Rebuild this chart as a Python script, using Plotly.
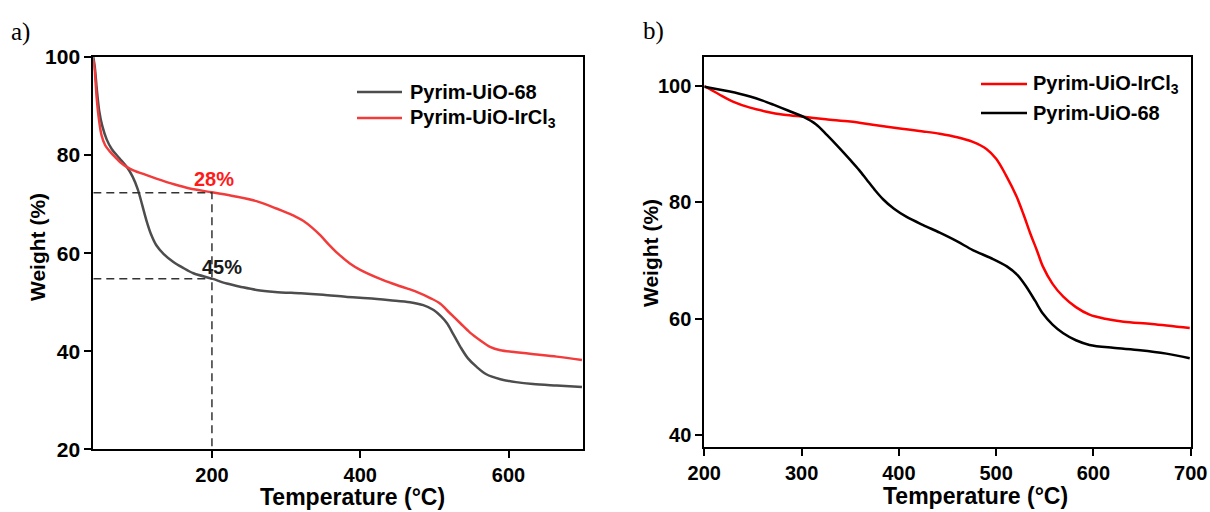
import plotly.graph_objects as go

# ---------------- data ----------------
# Panel a) Pyrim-UiO-68
a_uio_T = [40, 42, 45, 48, 52, 58, 65, 75, 85, 93, 100, 106, 112, 118, 125, 135, 148, 160, 175, 200,
           220, 240, 260, 285, 320, 350, 380, 410, 440, 467, 485, 499, 509, 517, 525, 535, 545, 557,
           570, 589, 610, 633, 665, 699]
a_uio_W = [100, 98, 93, 89, 86, 83.2, 81.2, 79.4, 77.6, 75.6, 73.0, 69.8, 66.5, 63.8, 61.6, 59.8, 58.2,
           57.1, 55.9, 54.8, 53.8, 53.1, 52.5, 52.1, 51.8, 51.5, 51.1, 50.8, 50.4, 50.0, 49.4, 48.4, 47.1,
           45.7, 43.6, 40.9, 38.6, 36.8, 35.3, 34.3, 33.7, 33.3, 33.0, 32.7]
# Panel a) Pyrim-UiO-IrCl3
a_ir_T = [40, 42, 44.6, 47, 51, 56, 62.5, 70, 76, 85, 94, 110, 125, 150, 170, 200, 230, 260, 287,
          300, 312, 323, 335, 347, 358, 370, 386, 400, 431, 455, 476, 495, 508, 520, 535, 548, 562,
          575, 589, 610, 634, 665, 699]
a_ir_W = [99.5, 97, 91.6, 88, 84.1, 82, 80.7, 79.5, 78.6, 77.6, 76.9, 76.0, 75.2, 74.0, 73.2, 72.4,
          71.6, 70.6, 69.1, 68.3, 67.5, 66.6, 65.2, 63.5, 61.7, 59.9, 57.9, 56.6, 54.5, 53.2, 52.1,
          50.8, 49.7, 47.9, 45.7, 43.8, 42.2, 40.9, 40.2, 39.8, 39.4, 38.9, 38.2]
# Panel a) guide values
guide_T = 200
guide_W_ir = 72.3
guide_W_uio = 54.8

# Panel b) Pyrim-UiO-IrCl3
b_ir_T = [200, 215, 230, 247, 264, 280, 298, 325, 350, 375, 401, 425, 442, 460, 476, 490, 500, 510,
          521, 528, 535, 542, 548, 558, 569, 582, 596, 612, 631, 660, 699]
b_ir_W = [100, 98.6, 97.3, 96.3, 95.6, 95.1, 94.8, 94.3, 93.9, 93.3, 92.7, 92.2, 91.8, 91.2, 90.4,
          89.2, 87.5, 84.7, 81.0, 78.0, 74.7, 71.7, 69.0, 66.0, 63.8, 62.0, 60.7, 60.0, 59.5, 59.1, 58.4]
# Panel b) Pyrim-UiO-68
b_uio_T = [200, 225, 247, 260, 271, 286, 302, 315, 326, 338, 350, 359, 367, 375, 384, 395, 408, 425,
           442, 460, 476, 495, 511, 522, 531, 540, 548, 558, 569, 582, 596, 620, 648, 675, 699]
b_uio_W = [99.9, 99.1, 98.2, 97.5, 96.8, 95.8, 94.7, 93.4, 91.6, 89.5, 87.3, 85.6, 83.9, 82.2, 80.5,
           78.9, 77.5, 76.1, 74.8, 73.3, 71.8, 70.4, 69.0, 67.5, 65.5, 63.1, 60.9, 59.0, 57.5, 56.3,
           55.5, 55.0, 54.6, 54.0, 53.2]

W, H = 1210, 512
FONT = "Arial, 'Liberation Sans', sans-serif"
SERIF = "'Times New Roman', 'Liberation Serif', serif"

def px(x):
    return x / W

def py(y):
    return 1 - y / H

fig = go.Figure()

line_kw = dict(shape="spline", smoothing=0.9, width=2.5)
# panel a curves
fig.add_trace(go.Scatter(x=a_uio_T, y=a_uio_W, mode="lines", line=dict(color="#4d4d4d", **line_kw),
                         xaxis="x", yaxis="y", showlegend=False, name="Pyrim-UiO-68"))
fig.add_trace(go.Scatter(x=a_ir_T, y=a_ir_W, mode="lines", line=dict(color="#f23c3c", **line_kw),
                         xaxis="x", yaxis="y", showlegend=False, name="Pyrim-UiO-IrCl3"))
# guide dashed lines
fig.add_trace(go.Scatter(x=[40, guide_T, guide_T], y=[guide_W_ir, guide_W_ir, 20], mode="lines",
                         line=dict(color="#333333", width=1.5, dash="8px,5px"), xaxis="x", yaxis="y", showlegend=False))
fig.add_trace(go.Scatter(x=[40, guide_T], y=[guide_W_uio, guide_W_uio], mode="lines",
                         line=dict(color="#333333", width=1.5, dash="8px,5px"), xaxis="x", yaxis="y", showlegend=False))

# panel b curves
fig.add_trace(go.Scatter(x=b_ir_T, y=b_ir_W, mode="lines", line=dict(color="#ff0000", **line_kw),
                         xaxis="x2", yaxis="y2", showlegend=False, name="Pyrim-UiO-IrCl3"))
fig.add_trace(go.Scatter(x=b_uio_T, y=b_uio_W, mode="lines", line=dict(color="#000000", **line_kw),
                         xaxis="x2", yaxis="y2", showlegend=False, name="Pyrim-UiO-68"))

axis_common = dict(showline=True, linecolor="black", linewidth=2, mirror=True, ticks="outside",
                   ticklen=7, tickwidth=2, tickcolor="black", showgrid=False, zeroline=False,
                   automargin=False)

fig.update_layout(
    width=W, height=H,
    margin=dict(l=0, r=0, t=0, b=0),
    paper_bgcolor="white", plot_bgcolor="white",
    font=dict(family=FONT, color="black"),
    xaxis=dict(domain=[px(93.3), px(582.7)], range=[40, 700], tickvals=[200, 400, 600],
               tickfont=dict(size=20, family=FONT, weight="bold"), anchor="y", **axis_common),
    yaxis=dict(domain=[py(449.3), py(57)], range=[20, 100], tickvals=[20, 40, 60, 80, 100],
               tickfont=dict(size=21, family=FONT, weight="bold"), anchor="x", **axis_common),
    xaxis2=dict(domain=[px(704.3), px(1190.7)], range=[200, 700], tickvals=[200, 300, 400, 500, 600, 700],
                tickfont=dict(size=20, family=FONT, weight="bold"), anchor="y2", **axis_common),
    yaxis2=dict(domain=[py(446.7), py(57)], range=[38, 105], tickvals=[40, 60, 80, 100],
                tickfont=dict(size=20, family=FONT, weight="bold"), anchor="x2", **axis_common),
)

ann = []
# panel labels
ann.append(dict(text="a)", x=px(9), y=py(32), xref="paper", yref="paper", xanchor="left", yanchor="middle",
                showarrow=False, font=dict(family=SERIF, size=25, color="black")))
ann.append(dict(text="b)", x=px(641), y=py(31), xref="paper", yref="paper", xanchor="left", yanchor="middle",
                showarrow=False, font=dict(family=SERIF, size=25, color="black")))
# axis titles
ann.append(dict(text="Temperature (°C)", x=px(352), y=py(497), xref="paper", yref="paper", xanchor="center", yanchor="middle",
                showarrow=False, font=dict(family=FONT, size=23, weight="bold")))
ann.append(dict(text="Weight (%)", x=px(37), y=py(247), xref="paper", yref="paper", xanchor="center", yanchor="middle",
                textangle=-90, showarrow=False, font=dict(family=FONT, size=21, weight="bold")))
ann.append(dict(text="Temperature (°C)", x=px(975), y=py(496), xref="paper", yref="paper", xanchor="center", yanchor="middle",
                showarrow=False, font=dict(family=FONT, size=23, weight="bold")))
ann.append(dict(text="Weight (%)", x=px(650), y=py(253), xref="paper", yref="paper", xanchor="center", yanchor="middle",
                textangle=-90, showarrow=False, font=dict(family=FONT, size=21, weight="bold")))
# percentage labels
ann.append(dict(text="28%", x=203, y=75.1, xref="x", yref="y", xanchor="center", yanchor="middle",
                showarrow=False, font=dict(family=FONT, size=20, weight="bold", color="#ff1a1a")))
ann.append(dict(text="45%", x=213, y=57.2, xref="x", yref="y", xanchor="center", yanchor="middle",
                showarrow=False, font=dict(family=FONT, size=20, weight="bold", color="#1a1a1a")))

# legends (manual)
shapes = []
def legend_item(x0, x1, xt, y, color, label):
    shapes.append(dict(type="line", xref="paper", yref="paper", x0=px(x0), x1=px(x1), y0=py(y), y1=py(y),
                       line=dict(color=color, width=2.5)))
    ann.append(dict(text=label, x=px(xt), y=py(y), xref="paper", yref="paper", xanchor="left", yanchor="middle",
                    showarrow=False, font=dict(family=FONT, size=20, weight="bold", color="black")))

legend_item(357, 402, 408, 92, "#4d4d4d", "Pyrim-UiO-68")
legend_item(357, 402, 408, 118, "#f23c3c", "Pyrim-UiO-IrCl<sub>3</sub>")
legend_item(981, 1027, 1031, 84, "#ff0000", "Pyrim-UiO-IrCl<sub>3</sub>")
legend_item(981, 1027, 1031, 113, "#000000", "Pyrim-UiO-68")

fig.update_layout(annotations=ann, shapes=shapes)

fig.write_html("out.html")
